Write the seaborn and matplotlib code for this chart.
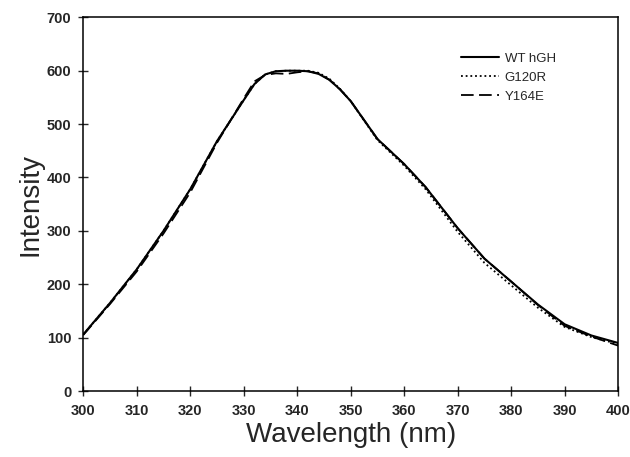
import numpy as np
import pandas as pd
import seaborn as sns
import matplotlib.pyplot as plt

sns.set_style("ticks")
plt.rcParams['font.family'] = ['Liberation Sans', 'DejaVu Sans']

wavelength = [300, 305, 310, 315, 320, 325, 330, 332, 334, 336, 338, 340,
              342, 344, 346, 348, 350, 355, 360, 364, 370, 375, 380, 385,
              390, 395, 400]
wt_hgh = [106, 165, 228, 300, 378, 468, 545, 575, 593, 599, 600, 600,
          599, 594, 583, 565, 543, 472, 425, 382, 305, 248, 205, 162,
          125, 104, 90]
g120r = [106, 165, 228, 300, 378, 468, 545, 575, 593, 599, 600, 600,
         600, 596, 585, 566, 543, 470, 422, 378, 298, 240, 198, 156,
         120, 101, 88]
y164e = [105, 163, 224, 295, 372, 465, 548, 580, 592, 595, 594, 597,
         599, 595, 583, 565, 543, 472, 425, 382, 305, 248, 205, 161,
         122, 102, 85]

df = pd.DataFrame({"Wavelength": wavelength * 3,
                   "Intensity": wt_hgh + g120r + y164e,
                   "Sample": ["WT hGH"] * len(wavelength) + ["G120R"] * len(wavelength)
                             + ["Y164E"] * len(wavelength)})

fig = plt.figure(figsize=(6.3, 4.57), dpi=100)
ax = fig.add_axes([0.1322, 0.1444, 0.849, 0.8177])

styles = {"WT hGH": dict(lw=1.5, ls="-"),
          "G120R": dict(lw=1.3, ls=(0, (1, 1.6))),
          "Y164E": dict(lw=1.3, ls=(0, (7, 3)))}
for name, kw in styles.items():
    sns.lineplot(data=df[df["Sample"] == name], x="Wavelength", y="Intensity",
                 color="black", label=name, ax=ax, **kw)

ax.set_xlim(300, 400)
ax.set_ylim(0, 700)
ax.set_xticks(np.arange(300, 401, 10))
ax.set_yticks(np.arange(0, 701, 100))
ax.tick_params(direction="inout", length=7, width=1, labelsize=10.5)
ax.tick_params(axis="x", pad=6)
ax.tick_params(axis="y", pad=5)
for lbl in ax.get_xticklabels() + ax.get_yticklabels():
    lbl.set_fontweight("bold")
for s in ax.spines.values():
    s.set_visible(True)
    s.set_linewidth(1.1)
    s.set_color("black")

ax.set_xlabel("Wavelength (nm)", fontsize=20, labelpad=3)
ax.set_ylabel("Intensity", fontsize=20, labelpad=2)

ax.legend(loc="upper left", bbox_to_anchor=(0.684, 0.937), frameon=False,
          fontsize=9.5, handlelength=2.9, labelspacing=0.5, handletextpad=0.4)

fig.savefig("out.png", dpi=100)
